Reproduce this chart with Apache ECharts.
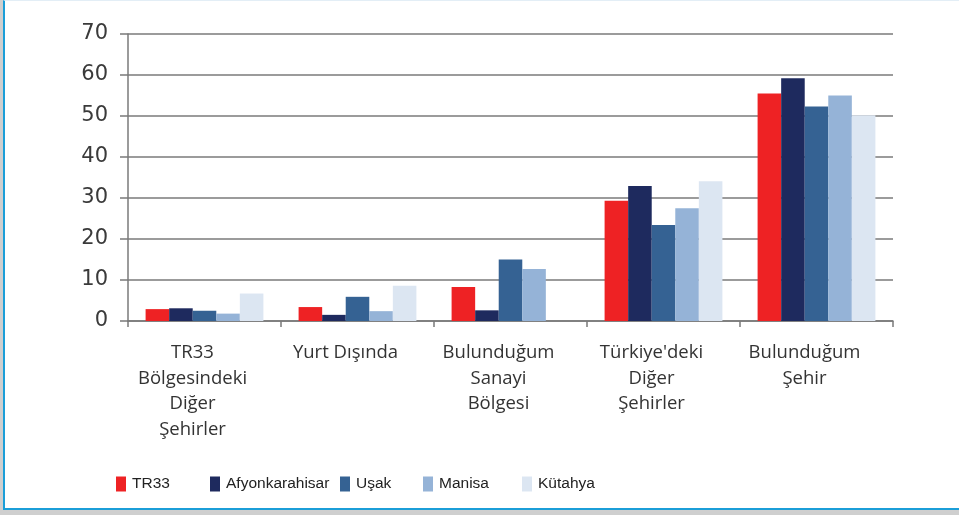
<!DOCTYPE html>
<html>
<head>
<meta charset="utf-8">
<script src="https://cdn.jsdelivr.net/npm/echarts@6/dist/echarts.min.js"></script>
<style>
html,body{margin:0;padding:0;background:#d6d6d6;}
#frame{position:absolute;left:0;top:0;width:959px;height:515px;background:#cfcfcf;}
#box{position:absolute;left:3px;top:0;width:956px;height:510px;background:#fff;border-left:2px solid #1b9ed8;border-bottom:2px solid #1b9ed8;border-top:1px solid #e3eef6;box-sizing:border-box;}
#chart{position:absolute;left:0;top:0;width:959px;height:515px;}
</style>
</head>
<body>
<div id="frame"><div id="box"></div></div>
<div id="chart"></div>
<script>
const categories = ["TR33\nBölgesindeki\nDiğer\nŞehirler", "Yurt Dışında", "Bulunduğum\nSanayi\nBölgesi", "Türkiye'deki\nDiğer\nŞehirler", "Bulunduğum\nŞehir"];
const seriesNames = ["TR33", "Afyonkarahisar", "Uşak", "Manisa", "Kütahya"];
const tr33 = [2.9, 3.4, 8.3, 29.3, 55.5];
const afyon = [3.1, 1.5, 2.6, 32.9, 59.2];
const usak = [2.5, 5.9, 15.0, 23.4, 52.3];
const manisa = [1.8, 2.4, 12.7, 27.5, 55.0];
const kutahya = [6.7, 8.6, null, 34.1, 50.2];
const yTicks = [0, 10, 20, 30, 40, 50, 60, 70];

const colors = ["#ee2224", "#1e2a5e", "#356293", "#95b3d7", "#dce6f2"];
const values = [tr33, afyon, usak, manisa, kutahya];
const legendLeft = [111, 205, 335, 418, 517];
const catFont = "'Open Sans', sans-serif";
const yFont = "'DejaVu Sans', sans-serif";
const legFont = "'Liberation Sans', sans-serif";

const chart = echarts.init(document.getElementById('chart'), null, {renderer: 'canvas'});
chart.setOption({
  backgroundColor: 'transparent',
  animation: false,
  color: colors,
  grid: {left: 128, right: 66, top: 34, bottom: 194, containLabel: false},
  legend: seriesNames.map((n, i) => ({
    data: [n], left: legendLeft[i], top: 471, itemWidth: 10, itemHeight: 15, itemGap: 0,
    icon: 'rect', selectedMode: false,
    textStyle: {fontFamily: legFont, fontSize: 15.5, color: '#222', padding: [0, 0, 0, 1]}
  })),
  xAxis: {
    type: 'category', data: categories,
    axisLine: {lineStyle: {color: '#7a7a7a', width: 1.5}},
    axisTick: {show: true, alignWithLabel: false, length: 6, lineStyle: {color: '#7a7a7a', width: 1.5}},
    axisLabel: {fontFamily: catFont, fontSize: 18.5, color: '#333', lineHeight: 25.5, margin: 19, interval: 0,
      padding: [0, 24, 0, 0]}
  },
  yAxis: {
    type: 'value', min: 0, max: 70, interval: 10,
    axisLine: {show: true, lineStyle: {color: '#7a7a7a', width: 1.5}},
    axisTick: {show: true, length: 8, lineStyle: {color: '#7a7a7a', width: 1.5}},
    splitLine: {show: true, lineStyle: {color: '#7a7a7a', width: 1.5}},
    axisLabel: {fontFamily: yFont, fontSize: 21, color: '#3a3a3a', margin: 20,
      formatter: v => yTicks.includes(v) ? String(v) : ''}
  },
  series: seriesNames.map((n, i) => ({
    name: n, type: 'bar', data: values[i], barGap: '0%', barCategoryGap: '23%',
    itemStyle: {color: colors[i]}
  }))
});
</script>
</body>
</html>
